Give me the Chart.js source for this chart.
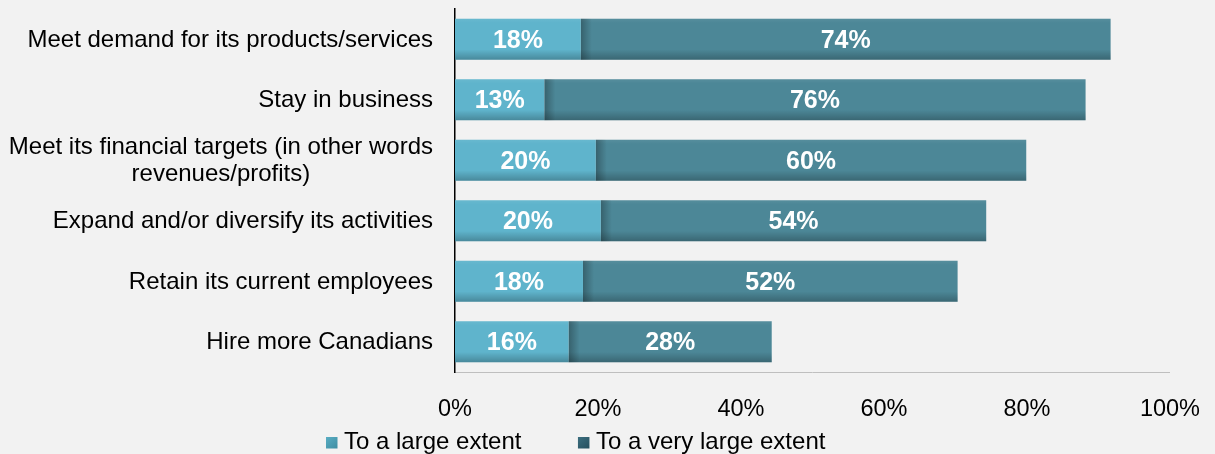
<!DOCTYPE html>
<html><head><meta charset="utf-8">
<script src="https://cdn.jsdelivr.net/npm/chart.js@4.4.0/dist/chart.umd.min.js"></script>
<style>html,body{margin:0;padding:0;background:#f2f2f2;overflow:hidden;} #wrap{width:1215px;height:454px;position:relative;}</style>
</head><body><div id="wrap"><canvas id="c" width="1215" height="454"></canvas></div>
<script>
const categories = [
  'Meet demand for its products/services',
  'Stay in business',
  ['Meet its financial targets (in other words', 'revenues/profits)'],
  'Expand and/or diversify its activities',
  'Retain its current employees',
  'Hire more Canadians'
];
const seriesNames = ['To a large extent', 'To a very large extent'];
const largeExtent = [17.6, 12.5, 19.7, 20.4, 17.9, 15.9];
const veryLargeExtent = [74.1, 75.7, 60.2, 53.9, 52.4, 28.4];
const tickLabels = ['0%', '20%', '40%', '60%', '80%', '100%'];
const barColors = ['#5fb4cc', '#4c8797'];
const legendColors = [['#5aaec4', '#3f8ea3'], ['#3c6f80', '#26505f']];

const FONT = '"Liberation Sans", Arial, sans-serif';

const shadePlugin = {
  id: 'shade',
  afterDatasetsDraw(chart) {
    const ctx = chart.ctx;
    chart.data.datasets.forEach((ds, di) => {
      const meta = chart.getDatasetMeta(di);
      meta.data.forEach(el => {
        const p = el.getProps(['x', 'y', 'base', 'height'], true);
        const l = Math.min(p.x, p.base), r = Math.max(p.x, p.base);
        const t = p.y - p.height / 2, b = p.y + p.height / 2;
        ctx.save();
        let g = ctx.createLinearGradient(0, t, 0, b);
        g.addColorStop(0, 'rgba(255,255,255,0.06)');
        g.addColorStop(0.1, 'rgba(255,255,255,0)');
        g.addColorStop(0.75, 'rgba(0,0,0,0)');
        g.addColorStop(1, 'rgba(0,0,0,0.24)');
        ctx.fillStyle = g;
        ctx.fillRect(l, t, r - l, b - t);
        if (di === 1) {
          let h = ctx.createLinearGradient(l, 0, l + 11, 0);
          h.addColorStop(0, 'rgba(0,0,0,0.28)');
          h.addColorStop(1, 'rgba(0,0,0,0)');
          ctx.fillStyle = h;
          ctx.fillRect(l, t, 11, b - t);
        }
        ctx.restore();
      });
    });
  }
};

const labelPlugin = {
  id: 'valueLabels',
  afterDatasetsDraw(chart) {
    const ctx = chart.ctx;
    ctx.save();
    ctx.font = 'bold 25px ' + FONT;
    ctx.fillStyle = '#ffffff';
    ctx.textAlign = 'center';
    ctx.textBaseline = 'middle';
    chart.data.datasets.forEach((ds, di) => {
      const meta = chart.getDatasetMeta(di);
      meta.data.forEach((el, i) => {
        const p = el.getProps(['x', 'y', 'base'], true);
        ctx.fillText(Math.round(ds.data[i]) + '%', (p.x + p.base) / 2, p.y + 1.5);
      });
    });
    ctx.restore();
  }
};

const catPlugin = {
  id: 'catLabels',
  afterDraw(chart) {
    const ctx = chart.ctx;
    const ys = chart.scales.y;
    const right = chart.chartArea.left - 22;
    ctx.save();
    ctx.font = '24px ' + FONT;
    ctx.fillStyle = '#000000';
    ctx.textAlign = 'center';
    ctx.textBaseline = 'middle';
    categories.forEach((lab, i) => {
      const lines = Array.isArray(lab) ? lab : [lab];
      const maxW = Math.max(...lines.map(s => ctx.measureText(s).width));
      const cx = right - maxW / 2;
      const yc = ys.getPixelForValue(i) + 1;
      lines.forEach((s, j) => {
        ctx.fillText(s, cx, yc + (j - (lines.length - 1) / 2) * 27);
      });
    });
    ctx.restore();
  }
};

const legendPlugin = {
  id: 'customLegend',
  afterDraw(chart) {
    const ctx = chart.ctx;
    ctx.save();
    ctx.font = '24px ' + FONT;
    ctx.textBaseline = 'middle';
    ctx.textAlign = 'left';
    let x = 326;
    const yc = 442.5;
    seriesNames.forEach((name, i) => {
      const g = ctx.createLinearGradient(x, yc - 6, x + 11, yc + 6);
      g.addColorStop(0, legendColors[i][0]);
      g.addColorStop(1, legendColors[i][1]);
      ctx.fillStyle = g;
      ctx.fillRect(x, yc - 5.5, 11.5, 11.5);
      ctx.fillStyle = '#000000';
      ctx.fillText(name, x + 18, yc);
      x = x + 18 + ctx.measureText(name).width + 56.5;
    });
    ctx.restore();
  }
};

new Chart(document.getElementById('c'), {
  type: 'bar',
  data: {
    labels: categories,
    datasets: [
      { label: seriesNames[0], data: largeExtent, backgroundColor: barColors[0], borderWidth: 0 },
      { label: seriesNames[1], data: veryLargeExtent, backgroundColor: barColors[1], borderWidth: 0 }
    ]
  },
  options: {
    indexAxis: 'y',
    responsive: false,
    devicePixelRatio: 1,
    animation: false,
    barPercentage: 0.677,
    categoryPercentage: 1,
    layout: { padding: { top: 9, right: 43, left: 0, bottom: 0 } },
    plugins: { legend: { display: false }, tooltip: { enabled: false } },
    scales: {
      x: {
        stacked: true,
        min: 0, max: 100,
        ticks: {
          stepSize: 20,
          padding: 15,
          color: '#000000',
          font: { family: FONT, size: 23.5 },
          callback: (v) => tickLabels[Math.round(v / 20)]
        },
        grid: { display: false },
        border: { display: true, color: '#bfbfbf', width: 1 },
        afterFit: (s) => { s.height = 82; }
      },
      y: {
        stacked: true,
        ticks: { display: false },
        grid: { display: false },
        border: { display: true, color: '#000000', width: 1.5 },
        afterFit: (s) => { s.width = 455; }
      }
    }
  },
  plugins: [shadePlugin, labelPlugin, catPlugin, legendPlugin]
});
</script>
</body></html>
